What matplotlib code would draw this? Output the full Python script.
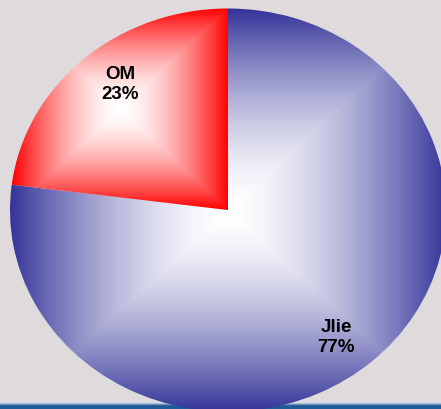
import numpy as np
import matplotlib
matplotlib.use("Agg")
import matplotlib.pyplot as plt
from matplotlib.colors import to_rgb

# data
names = ["Jlie", "OM"]
values = [77, 23]
pct_labels = ["77%", "23%"]
edge_colors = ["#333399", "#ff0000"]

bg = "#dfdbdc"

fig = plt.figure(figsize=(4.41, 4.10), dpi=100, facecolor=bg)
ax = fig.add_axes([0, 0, 1, 1])
ax.set_facecolor(bg)

wedges, _ = ax.pie(values, startangle=90, counterclock=False)

# pie is an ellipse: stretch by freeing the aspect
ax.set_aspect("auto")
xlim = (-228 / 218, (441 - 228) / 218)
ylim = (-199 / 201.5, 211 / 201.5)
ax.axis("off")


def box_gradient(color, n=300, gamma=1.6):
    u = np.linspace(-1, 1, n)
    U, V = np.meshgrid(u, u)
    t = np.maximum(np.abs(U), np.abs(V)) ** gamma
    c = np.array(to_rgb(color))
    img = (1 - t[..., None]) * 1.0 + t[..., None] * c
    return img


# fill each wedge with a rectangular gradient over its own bounding box
for w, col, name, pct in zip(wedges, edge_colors, names, pct_labels):
    verts = w.get_path().vertices
    x0, y0 = verts.min(axis=0)
    x1, y1 = verts.max(axis=0)
    im = ax.imshow(box_gradient(col), extent=(x0, x1, y0, y1), origin="lower",
                   aspect="auto", interpolation="bilinear", zorder=2)
    im.set_clip_path(w)
    w.set_facecolor("none")
    w.set_edgecolor("none")
    mid = np.deg2rad((w.theta1 + w.theta2) / 2)
    ax.text(0.75 * np.cos(mid), 0.835 * np.sin(mid), name + "\n" + pct,
            ha="center", va="center", fontsize=13.5, fontweight="bold",
            family="Liberation Sans", linespacing=1.2, zorder=5)

# blue strip at the bottom of the slide
strip = np.array([to_rgb(c) for c in ["#1f5a99", "#1f5a99", "#1f5a99", "#2a64a0",
                                       "#7090b8", "#a8bed6", "#cfdbe8"]])[:, None, :]
ax.imshow(strip, extent=(0, 1, 0, 7 / 410), transform=ax.transAxes,
          origin="lower", aspect="auto", interpolation="nearest", zorder=1)

ax.set_xlim(xlim)
ax.set_ylim(ylim)

fig.savefig("out.png", dpi=100, facecolor=bg)
